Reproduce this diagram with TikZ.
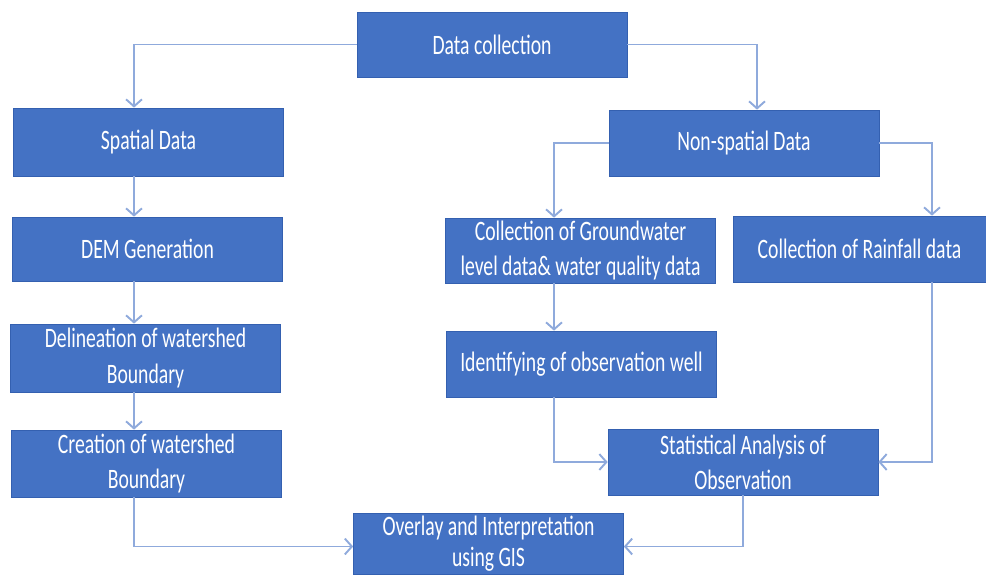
\documentclass[tikz,border=0pt]{standalone}
\usepackage{fontspec}
\newfontfamily\calib[FakeStretch=0.70]{Carlito}
\usetikzlibrary{arrows.meta, calc}

\definecolor{boxblue}{RGB}{68,114,196}
\definecolor{boxedge}{RGB}{52,96,176}
\definecolor{linkblue}{RGB}{143,170,220}

\begin{document}
\begin{tikzpicture}[x=0.02cm, y=-0.02cm,
	font=\calib\fontsize{16}{20}\selectfont,
	box/.style={rectangle, fill=boxblue, draw=boxedge, line width=0.4pt, text=white, align=center, inner sep=0pt, minimum width=5.4cm, minimum height=1.32cm},
	link/.style={draw=linkblue, line width=1.1pt, -{Straight Barb[length=4pt, width=9pt]}}]
	\clip							(0,0) rectangle (986,575);
	% boxes
	\node[box, minimum height=1.3cm]		(collect) at (492,44.5) {Data collection};
	\node[box, minimum height=1.36cm]		(spatial) at (148.5,142) {Spatial Data};
	\node[box]					(nonspatial) at (744,143) {Non-spatial Data};
	\node[box, minimum height=1.28cm]		(dem) at (147.5,249) {DEM Generation};
	\node[box, minimum height=1.3cm]		(gwater) at (580.5,250.5) {Collection of Groundwater\\level data\& water quality data};
	\node[box, minimum width=5.06cm]		(rain) at (859.5,249) {Collection of Rainfall data};
	\node[box, minimum height=1.36cm]		(delin) at (145.5,358) {Delineation of watershed\\Boundary};
	\node[box]					(ident) at (581.5,364) {Identifying of observation well};
	\node[box, minimum height=1.34cm]		(creation) at (146.5,463.5) {Creation of watershed\\Boundary};
	\node[box]					(stats) at (743,462) {Statistical Analysis of\\Observation};
	\node[box, minimum height=1.22cm, font=\calib\fontsize{16}{18}\selectfont]	(overlay) at (488.5,543.5) {Overlay and Interpretation\\using GIS};
	% lanes
	\coordinate					(leftlane) at (134,0);
	\coordinate					(nslane) at (757,0);
	\coordinate					(gwlane) at (554,0);
	\coordinate					(rainlane) at (932,0);
	% connectors
	\draw[link]					(collect.west) -| (spatial.north -| leftlane);
	\draw[link]					(collect.east) -| (nonspatial.north -| nslane);
	\draw[link]					(nonspatial.west) -| (gwater.north -| gwlane);
	\draw[link]					(nonspatial.east) -| (rain.north -| rainlane);
	\draw[link]					(spatial.south -| leftlane) -- (dem.north -| leftlane);
	\draw[link]					(dem.south -| leftlane) -- (delin.north -| leftlane);
	\draw[link]					(delin.south -| leftlane) -- (creation.north -| leftlane);
	\draw[link]					(creation.south -| leftlane) |- ([yshift=-0.06cm]overlay.west);
	\draw[link]					(gwater.south -| gwlane) -- (ident.north -| gwlane);
	\draw[link]					(ident.south -| gwlane) |- (stats.west);
	\draw[link]					(rain.south -| rainlane) |- (stats.east);
	\draw[link]					(stats.south) |- ([yshift=-0.06cm]overlay.east);
\end{tikzpicture}
\end{document}
